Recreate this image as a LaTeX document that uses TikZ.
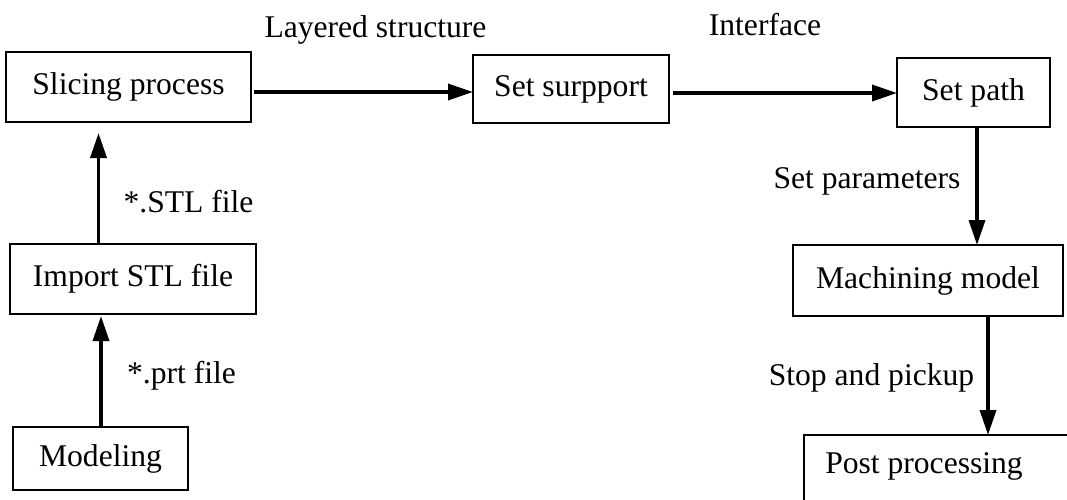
\documentclass[tikz,border=0pt]{standalone}
\usepackage{fontspec}
\setmainfont{Liberation Serif}
\usetikzlibrary{arrows.meta}
\begin{document}
\begin{tikzpicture}[x=1pt,y=-1pt,
  every node/.style={font=\fontsize{31.6}{38}\selectfont, inner sep=0pt, outer sep=0pt, text height=22pt, text depth=7pt},
  box/.style={draw, line width=1.8pt, rectangle},
  arr/.style={line width=3.5pt, -{Triangle[length=25pt,width=16pt]}},
]
\useasboundingbox (0,0) rectangle (1067,499);
% boxes
\node[box, minimum width=245pt, minimum height=70pt] (slice) at (128.5,87) {Slicing process};
\node[box, minimum width=196pt, minimum height=68pt] (support) at (571,89) {Set surpport};
\node[box, minimum width=153pt, minimum height=69pt] (path) at (973.5,92.5) {Set path};
\node[box, minimum width=270pt, minimum height=71pt] (mach) at (928,280.5) {Machining model};
\node[box, minimum width=246pt, minimum height=70pt] (import) at (133,279) {Import STL file};
\node[box, minimum width=175pt, minimum height=63pt] (model) at (100.5,458.5) {Modeling};
\node[box, minimum width=300pt, minimum height=100pt, anchor=north west] (post) at (804,435) {};
\node (posttext) at (924,465.5) {Post processing};
% labels
\node (lay) at (375.5,29.5) {Layered structure};
\node (iface) at (765,27.5) {Interface};
\node (stl) at (188.5,204.5) {*.STL file};
\node (prt) at (181.5,375.5) {*.prt file};
\node (param) at (867,180.5) {Set parameters};
\node (stop) at (871.5,377.5) {Stop and pickup};
% arrows
\draw[arr] ([xshift=3pt,yshift=-5pt]slice.east) -- ([yshift=-3pt]support.west);
\draw[arr] ([xshift=4pt,yshift=-4pt]support.east) -- ([yshift=-0.5pt]path.west);
\draw[arr] ([xshift=3.5pt]path.south) -- ([xshift=3.5pt]path.south |- mach.north);
\draw[arr] ([xshift=60pt]mach.south) -- ([xshift=60pt]mach.south |- post.north);
\draw[arr] ([xshift=-34.5pt]import.north) -- ([xshift=-30pt,yshift=-11pt]slice.south);
\draw[arr] ([xshift=0.5pt]model.north) -- ([xshift=0.5pt,yshift=-2pt]model.north |- import.south);
\end{tikzpicture}
\end{document}
